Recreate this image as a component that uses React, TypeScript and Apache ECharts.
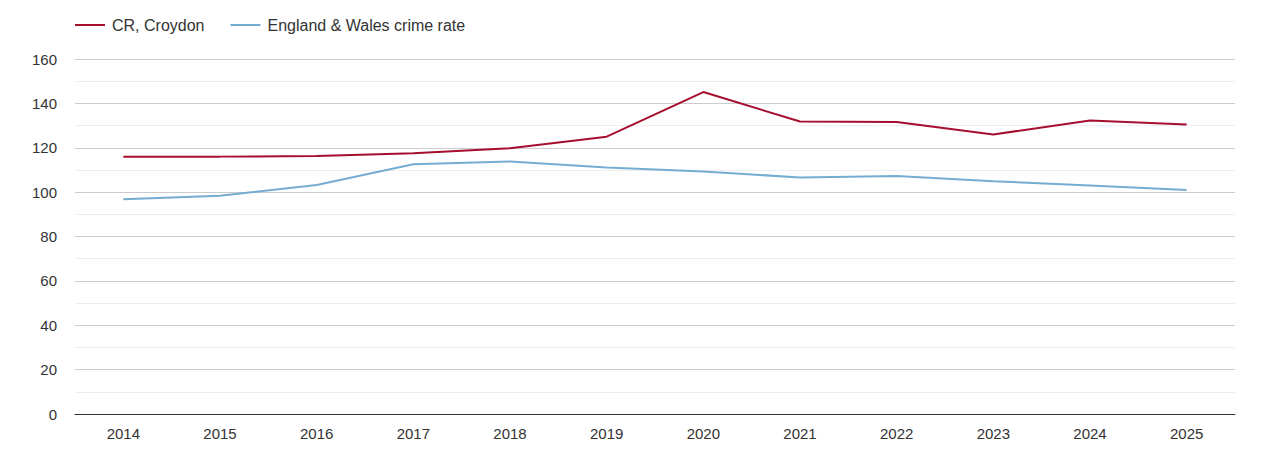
import React, { useEffect, useRef } from 'react';
import * as echarts from 'echarts';

const years = ['2014', '2015', '2016', '2017', '2018', '2019', '2020', '2021', '2022', '2023', '2024', '2025'];
const croydon = [116, 116, 116.3, 117.5, 119.8, 125, 145.1, 131.8, 131.6, 126, 132.3, 130.5];
const englandWales = [96.8, 98.4, 103.2, 112.6, 113.8, 111.1, 109.3, 106.6, 107.3, 104.9, 103, 101];

const App: React.FC = () => {
  const chartRef = useRef<HTMLDivElement>(null);

  useEffect(() => {
    const chart = echarts.init(chartRef.current!, undefined, { renderer: 'svg' });

    chart.setOption({
      animation: false,
      textStyle: { fontFamily: 'Arial, "Liberation Sans", sans-serif' },
      legend: {
        left: 75,
        top: 17,
        padding: 0,
        itemWidth: 30,
        itemHeight: 2,
        itemGap: 26,
        icon: 'rect',
        textStyle: { fontSize: 16, color: '#333', padding: [0, 0, 0, 2] },
        data: ['CR, Croydon', 'England & Wales crime rate'],
      },
      grid: { left: 75, right: 35, top: 59, bottom: 36 },
      xAxis: {
        type: 'category',
        data: years,
        boundaryGap: true,
        axisLine: { lineStyle: { color: '#333' } },
        axisTick: { show: false },
        axisLabel: { fontSize: 15, color: '#333', margin: 12 },
      },
      yAxis: {
        type: 'value',
        min: 0,
        max: 160,
        interval: 20,
        axisLabel: { fontSize: 15, color: '#333', margin: 18 },
        splitLine: { lineStyle: { color: '#ccc' } },
        minorTick: { show: false, splitNumber: 2 },
        minorSplitLine: { show: true, lineStyle: { color: '#eee' } },
      },
      series: [
        {
          name: 'CR, Croydon',
          type: 'line',
          data: croydon,
          symbol: 'none',
          lineStyle: { color: '#a50f2d', width: 2 },
          itemStyle: { color: '#a50f2d' },
        },
        {
          name: 'England & Wales crime rate',
          type: 'line',
          data: englandWales,
          symbol: 'none',
          lineStyle: { color: '#74add1', width: 2 },
          itemStyle: { color: '#74add1' },
        },
      ],
    });

    return () => {
      chart.dispose();
    };
  }, []);

  return <div ref={chartRef} style={{ width: '1270px', height: '450px', margin: '-8px' }} />;
};

export default App;
